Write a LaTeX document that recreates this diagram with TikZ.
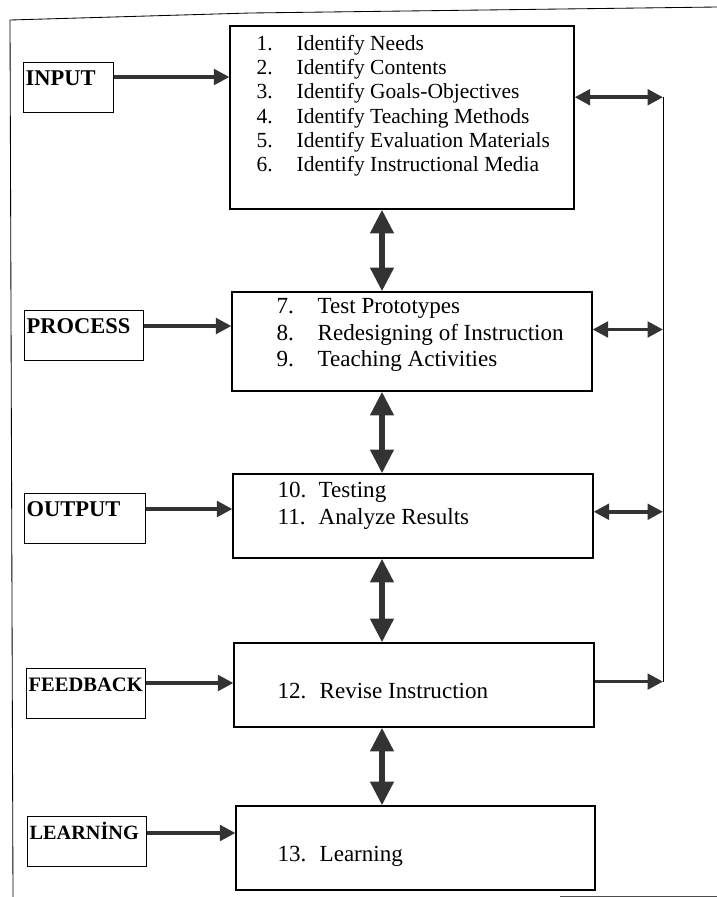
\documentclass[tikz,border=0pt]{standalone}
\usepackage{fontspec}
\setmainfont{Liberation Serif}
\usetikzlibrary{arrows.meta, positioning, calc}

\begin{document}
\begin{tikzpicture}[x=0.025cm, y=-0.025cm,
    stage/.style={draw, line width=0.8pt, inner sep=0pt},
    tag/.style={draw, line width=0.8pt, anchor=north west, align=left,
        font=\fontsize{16}{18}\selectfont\bfseries,
        inner xsep=1.5pt, inner ysep=3pt, text height=13.5pt, text depth=16pt},
    items/.style={inner sep=0pt, anchor=north west, align=left},
    flow/.style={line width=2.6pt, color=black!80, -{Triangle[length=11pt, width=11pt]}},
    both/.style={line width=2.6pt, color=black!80, {Triangle[length=11pt, width=11pt]}-{Triangle[length=11pt, width=11pt]}},
    link/.style={line width=4.5pt, color=black!80, {Triangle[length=17pt, width=16pt]}-{Triangle[length=17pt, width=16pt]}},
    rail/.style={line width=0.7pt}]
    \useasboundingbox (0,0) rectangle (717,897);
    % page frame
    \draw[line width=0.6pt] (717,7) -- (250,13) -- (10,20) -- (13,897);
    \draw[line width=0.6pt, black!70] (560,896) -- (717,896);

    % stages
    \node[stage, minimum width=8.6cm, minimum height=4.575cm] (b1) at (402,117.5) {};
    \node[stage, minimum width=9cm, minimum height=2.475cm] (b2) at (412,341.5) {};
    \node[stage, minimum width=9cm, minimum height=2.1cm] (b3) at (413,516) {};
    \node[stage, minimum width=9cm, minimum height=2.1cm] (b4) at (414,685) {};
    \node[stage, minimum width=8.975cm, minimum height=2.1cm] (b5) at (415.5,848) {};

    \node[items, font=\fontsize{15.3}{17.3}\selectfont, below right=0.23cm and 0.675cm of b1.north west] (l1)
        {\makebox[1cm][l]{1.}Identify Needs\\
         \makebox[1cm][l]{2.}Identify Contents\\
         \makebox[1cm][l]{3.}Identify Goals-Objectives\\
         \makebox[1cm][l]{4.}Identify Teaching Methods\\
         \makebox[1cm][l]{5.}Identify Evaluation Materials\\
         \makebox[1cm][l]{6.}Identify Instructional Media};
    \node[items, font=\fontsize{16.4}{18.8}\selectfont, below right=0.17cm and 1.125cm of b2.north west] (l2)
        {\makebox[1.025cm][l]{7.}Test Prototypes\\
         \makebox[1.025cm][l]{8.}Redesigning of Instruction\\
         \makebox[1.025cm][l]{9.}Teaching Activities};
    \node[items, font=\fontsize{16.4}{19.3}\selectfont, below right=0.2cm and 1.125cm of b3.north west] (l3)
        {\makebox[1.025cm][l]{10.}Testing\\
         \makebox[1.025cm][l]{11.}Analyze Results};
    \node[items, font=\fontsize{16.4}{19}\selectfont, below right=1.02cm and 1.1cm of b4.north west] (l4)
        {\makebox[1.05cm][l]{12.}Revise Instruction};
    \node[items, font=\fontsize{16.4}{19}\selectfont, below right=1.02cm and 1.05cm of b5.north west] (l5)
        {\makebox[1.05cm][l]{13.}Learning};

    % tags on the left
    \node[tag, text width=2.14cm] (tin) at (23,62) {INPUT};
    \node[tag, text width=2.87cm] (tpr) at (24,310) {PROCESS};
    \node[tag, text width=2.92cm] (tout) at (24,493) {OUTPUT};
    \node[tag, text width=2.87cm, font=\fontsize{14.6}{18}\selectfont\bfseries] (tfb) at (26,668) {FEEDBACK};
    \node[tag, text width=2.87cm, font=\fontsize{14.4}{18}\selectfont\bfseries] (tlr) at (27,816) {LEARNİNG};

    \draw[flow] ($(tin.north east)+(0,15)$) coordinate (a1) -- (a1 -| b1.west);
    \draw[flow] ($(tpr.north east)+(0,16)$) coordinate (a2) -- (a2 -| b2.west);
    \draw[flow] ($(tout.north east)+(0,16)$) coordinate (a3) -- (a3 -| b3.west);
    \draw[flow] ($(tfb.north east)+(0,15)$) coordinate (a4) -- (a4 -| b4.west);
    \draw[flow] ($(tlr.north east)+(0,17)$) coordinate (a5) -- (a5 -| b5.west);

    % links between stages
    \coordinate (axis) at (382,0);
    \draw[link] (b1.south -| axis) -- (b2.north -| axis);
    \draw[link] (b2.south -| axis) -- (b3.north -| axis);
    \draw[link] (b3.south -| axis) -- (b4.north -| axis);
    \draw[link] (b4.south -| axis) -- (b5.north -| axis);

    % loop on the right
    \coordinate (rx) at (663,0);
    \coordinate (e1) at ($(b1.north east)!0.39!(b1.south east)$);
    \coordinate (e2) at ($(b2.north east)!0.38!(b2.south east)$);
    \coordinate (e3) at ($(b3.north east)!0.45!(b3.south east)$);
    \coordinate (e4) at ($(b4.north east)!0.46!(b4.south east)$);
    \draw[rail] (e1 -| rx) -- (e4 -| rx);
    \draw[both] (e1) -- (e1 -| rx);
    \draw[both] (e2) -- (e2 -| rx);
    \draw[both] (e3) -- (e3 -| rx);
    \draw[flow] (e4) -- (e4 -| rx);
\end{tikzpicture}
\end{document}
